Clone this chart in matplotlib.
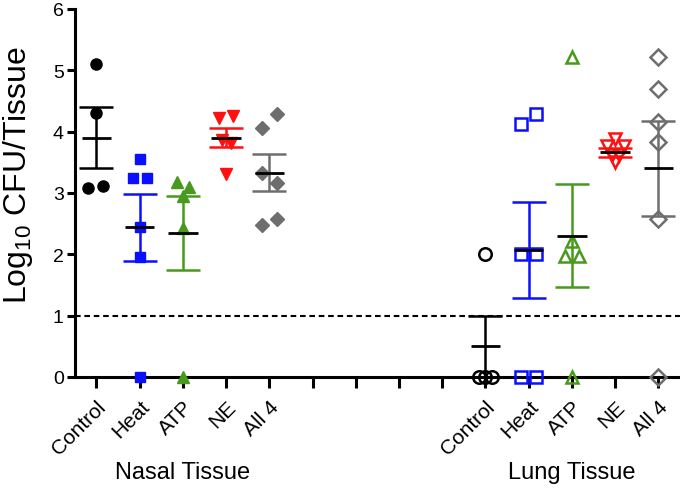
import matplotlib
matplotlib.use('Agg')
import matplotlib.pyplot as plt
from matplotlib.transforms import blended_transform_factory

plt.rcParams['font.family'] = ['Liberation Sans', 'DejaVu Sans']
plt.rcParams['mathtext.default'] = 'regular'

# treatment groups and tick labels
groups = ['Control', 'Heat', 'ATP', 'NE', 'All 4']
tick_labels = groups + ['', '', '', ''] + groups
tissues = ['Nasal Tissue', 'Lung Tissue']

# nasal tissue values (log10 CFU)
nasal_control = [5.1, 4.3, 3.08, 3.12]
nasal_heat = [3.55, 3.25, 3.25, 2.45, 1.95, 0]
nasal_atp = [3.18, 3.1, 2.95, 2.43, 0]
nasal_ne = [4.22, 4.25, 3.86, 3.82, 3.3]
nasal_all4 = [4.06, 4.29, 3.33, 3.16, 2.47, 2.58]
nasal_mean = [3.9, 2.44, 2.35, 3.9, 3.33]
nasal_sem = [0.5, 0.55, 0.6, 0.16, 0.3]

# lung tissue values (log10 CFU)
lung_control = [2.0, 0, 0, 0]
lung_heat = [4.13, 4.29, 2.0, 2.0, 0, 0]
lung_atp = [5.22, 2.22, 1.97, 1.97, 0]
lung_ne = [3.88, 3.77, 3.77, 3.62, 3.62, 3.5]
lung_all4 = [5.22, 4.7, 4.16, 3.83, 2.58, 0]
lung_mean = [0.5, 2.07, 2.3, 3.66, 3.4]
lung_sem = [0.5, 0.78, 0.84, 0.07, 0.77]

# horizontal scatter of overlapping points
nasal_jitter = [[0, 0, -0.2, 0.16], [0, -0.16, 0.16, 0, 0, 0], [-0.14, 0.14, 0, 0, 0],
                [-0.16, 0.16, -0.1, 0.12, 0], [-0.16, 0.18, -0.16, 0.18, -0.16, 0.18]]
lung_jitter = [[0, -0.14, 0, 0.14], [-0.18, 0.17, -0.18, 0.17, -0.18, 0.17], [0, 0, -0.17, 0.17, 0],
               [0, -0.2, 0.2, -0.08, 0.08, 0], [0, 0, 0, 0, 0, 0]]

colors = ['black', '#0a10ff', '#479a1c', '#ff1010', '#6e6e6e']
markers = ['o', 's', '^', 'v', 'D']
sizes = [8, 7.5, 8, 8, 7]

fig = plt.figure(figsize=(6.8, 4.89), dpi=100)
ax = fig.add_axes([0.11, 0.227, 0.89, 0.753])

nasal = [nasal_control, nasal_heat, nasal_atp, nasal_ne, nasal_all4]
lung = [lung_control, lung_heat, lung_atp, lung_ne, lung_all4]

for i in range(5):
    # nasal: filled markers
    xs = [i + j for j in nasal_jitter[i]]
    ax.plot(xs, nasal[i], linestyle='none', marker=markers[i], ms=sizes[i],
            color=colors[i], mec=colors[i], clip_on=False, zorder=3)
    ax.errorbar(i, nasal_mean[i], yerr=nasal_sem[i], fmt='none', ecolor=colors[i],
                elinewidth=1.8, capsize=12, capthick=1.8, zorder=4)
    ax.hlines(nasal_mean[i], i - 0.34, i + 0.34, color='black', lw=2, zorder=5)

    # lung: open markers
    k = i + 9
    xs = [k + j for j in lung_jitter[i]]
    ax.plot(xs, lung[i], linestyle='none', marker=markers[i], ms=sizes[i] + 1,
            mfc='none', mec=colors[i], mew=1.8, clip_on=False, zorder=3)
    ax.errorbar(k, lung_mean[i], yerr=lung_sem[i], fmt='none', ecolor=colors[i],
                elinewidth=1.8, capsize=12, capthick=1.8, zorder=4)
    ax.hlines(lung_mean[i], k - 0.34, k + 0.34, color='black', lw=2, zorder=5)

# detection limit
ax.axhline(1, color='black', lw=1.5, dashes=(2.7, 1.8), zorder=1)

ax.set_xlim(-0.5, 13.5)
ax.set_ylim(0, 6)
ax.set_yticks(range(7))
ax.set_xticks(range(14))
ax.set_xticklabels(tick_labels, rotation=45, ha='right', rotation_mode='anchor', fontsize=15)
ax.tick_params(axis='y', labelsize=14, length=6, width=2.2, direction='out', pad=2)
ax.tick_params(axis='x', length=8, width=2.2, direction='out', pad=6)
for s in ['top', 'right']:
    ax.spines[s].set_visible(False)
for s in ['left', 'bottom']:
    ax.spines[s].set_linewidth(2.2)

ax.set_ylabel('Log$_{10}$ CFU/Tissue', fontsize=23)
ax.yaxis.set_label_coords(-0.066, 0.55)

trans = blended_transform_factory(ax.transData, fig.transFigure)
for x, name in zip([2, 11], tissues):
    fig.text(x, 0.033, name, transform=trans, ha='center', va='center', fontsize=17)

fig.savefig('out.png', dpi=100)
